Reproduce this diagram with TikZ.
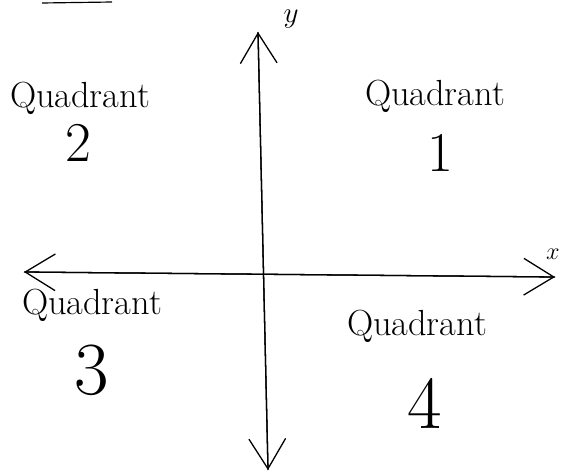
\documentclass[tikz,border=0pt]{standalone}
\usetikzlibrary{arrows.meta}
\tikzset{
  axis/.style={line width=1.1pt,-{Straight Barb[length=9mm,width=11mm,line width=1.1pt]}},
  quad/.style={font=\fontsize{31}{34}\selectfont},
  qnum/.style={font=\fontsize{48}{52}\selectfont},
  bignum/.style={font=\fontsize{64}{68}\selectfont},
}
\begin{document}
\begin{tikzpicture}[x=0.03cm,y=-0.03cm]
\useasboundingbox (0,0) rectangle (582,475);
\draw[line width=1pt] (42,3) -- (112,2);

\coordinate (ytop) at (258,32);
\coordinate (ybot) at (268,470);
\coordinate (xleft) at (24,272);
\coordinate (xright) at (555,277);

\draw[axis] (ybot) -- (ytop);
\draw[axis] (ytop) -- (ybot);
\draw[axis] (xright) -- (xleft);
\draw[axis] (xleft) -- (xright);

\node[font=\fontsize{24}{26}\selectfont] (ylbl) at (291,19) {\(y\)};
\node[font=\fontsize{20}{22}\selectfont] (xlbl) at (553,254) {\(x\)};

\node[quad] (q2) at (80,98) {Quadrant};
\node[qnum] (n2) at (78,143) {2};
\node[quad] (q1) at (435,96) {Quadrant};
\node[qnum] (n1) at (440,153) {1};
\node[quad] (q3) at (92,305) {Quadrant};
\node[bignum] (n3) at (92,370) {3};
\node[quad] (q4) at (417,326) {Quadrant};
\node[bignum] (n4) at (425,403) {4};
\end{tikzpicture}
\end{document}
